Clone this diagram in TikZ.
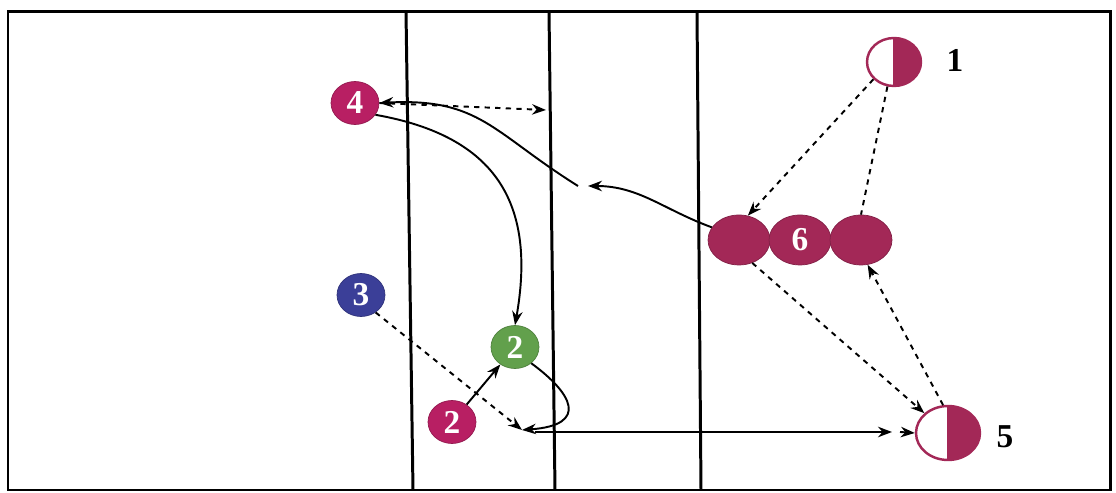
\documentclass[tikz,border=0pt]{standalone}
\usepackage{fontspec}
\setmainfont{Liberation Serif}
\usepackage{xcolor}
\usetikzlibrary{positioning, arrows.meta, shapes.geometric}
\definecolor{plum}{HTML}{B81F63}
\definecolor{wine}{HTML}{A32857}
\definecolor{navy}{HTML}{3B3F98}
\definecolor{leaf}{HTML}{62A04C}

\begin{document}
\begin{tikzpicture}[x=0.02cm, y=0.02cm,
      player/.style={ellipse, fill=#1, draw=#1!80!black, text=white, inner sep=0pt, minimum width=0.96cm, minimum height=0.86cm, font=\bfseries\fontsize{19}{19}\selectfont},
      block/.style={ellipse, fill=wine, draw=wine!80!black, text=white, inner sep=0pt, minimum width=1.24cm, minimum height=1cm, font=\bfseries\fontsize{19}{19}\selectfont},
      halfman/.style={ellipse, draw=wine, line width=1.4pt, fill=white, inner sep=0pt,
        path picture={\fill[wine] (path picture bounding box.north) rectangle (path picture bounding box.south east);
          \draw[wine, line width=1.2pt] (path picture bounding box.north) -- (path picture bounding box.south);}},
      tag/.style={font=\bfseries\fontsize{19}{19}\selectfont},
      run/.style={->, >=Stealth, line width=1.1pt},
      pass/.style={->, >=Stealth, dashed, line width=1.1pt}
    ]
    \useasboundingbox (0,0) rectangle (1116,493);
    \draw[line width=1.7pt] (8,3) rectangle (1110,481);
    \draw[line width=1.7pt] (406,481) -- (413,3);
    \draw[line width=1.7pt] (549,481) -- (555,3);
    \draw[line width=1.7pt] (697,481) -- (701,3);

    \node[player=plum] (four) at (355,390) {4};
    \node[player=navy] (three) at (361,198) {3};
    \node[player=leaf] (twoB) at (515,146) {2};
    \node[player=plum] (twoA) at (452,71) {2};
    \node[halfman, minimum width=1.08cm, minimum height=0.96cm] (one) at (894,431) {};
    \node[tag] (lone) at (955,433) {1};
    \node[block] (six1) at (739,253) {};
    \node[block] (six) at (800,253) {6};
    \node[block] (six2) at (861,253) {};
    \node[halfman, minimum width=1.28cm, minimum height=1.08cm] (five) at (948,60) {};
    \node[tag] (lfive) at (1005,56) {5};

    \coordinate (edge) at (546,383);
    \coordinate (k1) at (588,307);
    \coordinate (k2) at (578,307);
    \coordinate (meet) at (522,63);
    \coordinate (d1) at (535,61);
    \coordinate (d2) at (892,61);
    \coordinate (d3) at (900,61);

    \draw[pass] (four.east) -- (edge);
    \draw[run] (six1.155) to[out=160, in=0] (k1);
    \draw[run] (k2) to[out=148, in=3, looseness=1.2] (four.east);
    \draw[run] (four.-30) to[out=-10, in=80, looseness=1.25] (twoB.north);
    \draw[run] (twoA) -- (twoB);
    \draw[pass] (three.-50) -- (meet);
    \draw[run] (twoB.-45) .. controls (572,100) and (590,68) .. (meet);
    \draw[run] (d1) -- (d2);
    \draw[pass] (d3) -- (five.west);
    \draw[pass] (one.220) -- (six1.70);
    \draw[dashed, line width=1.1pt] (one.255) -- (six2.north);
    \draw[pass] (six1.-60) -- (five.140);
    \draw[pass] (five.100) -- (six2.-75);
  \end{tikzpicture}
\end{document}
